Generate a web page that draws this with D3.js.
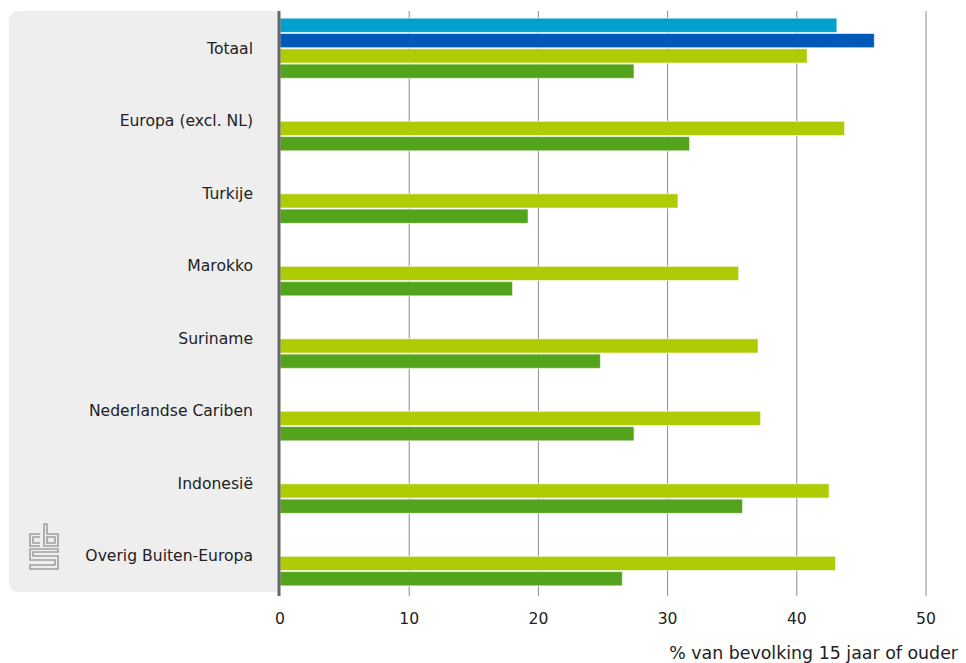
<!DOCTYPE html>
<html><head><meta charset="utf-8">
<script src="https://cdn.jsdelivr.net/npm/d3@7"></script>
<style>body{margin:0;background:#fff}svg{display:block}text{font-family:"DejaVu Sans",sans-serif}</style>
</head><body><svg id="c" width="966" height="663"></svg>
<script>
const categories = ["Totaal","Europa (excl. NL)","Turkije","Marokko","Suriname","Nederlandse Cariben","Indonesië","Overig Buiten-Europa"];
const seriesNames = ["reeks1","reeks2","reeks3","reeks4"];
const series1 = [43.1, null, null, null, null, null, null, null];
const series2 = [46.0, null, null, null, null, null, null, null];
const series3 = [40.8, 43.7, 30.8, 35.5, 37.0, 37.2, 42.5, 43.0];
const series4 = [27.4, 31.7, 19.2, 18.0, 24.8, 27.4, 35.8, 26.5];
const colors = ["#00a1cd","#0058b8","#afcb05","#53a31d"];
const ticks = [0,10,20,30,40,50];
const axisTitle = "% van bevolking 15 jaar of ouder";

(function(){
const svg = d3.select("#c");
const pTop = 11, pBottom = 592, x0 = 280, x1 = 926;
const x = d3.scaleLinear().domain([0,50]).range([x0,x1]);
const y = d3.scaleBand().domain(categories).range([12,592]).paddingInner(0.17).paddingOuter(0.085);
const ys = d3.scaleBand().domain(seriesNames).range([0,y.bandwidth()]).paddingInner(0.07);

// panel
svg.append("path").attr("fill","#eeeeee")
  .attr("d",`M${x0},${pTop} H19 Q9,${pTop} 9,${pTop+10} V${pBottom-10} Q9,${pBottom} 19,${pBottom} H${x0} Z`);

// grid
svg.append("g").selectAll("line").data(ticks.slice(1)).join("line")
  .attr("x1",d=>x(d)).attr("x2",d=>x(d)).attr("y1",pTop).attr("y2",pBottom+4)
  .attr("stroke","#8c8c8c").attr("stroke-width",1);

// bars
const all = [series1,series2,series3,series4];
const g = svg.append("g");
all.forEach((s,si)=>{
  g.selectAll(null).data(categories.map((c,i)=>({c,v:s[i]})).filter(d=>d.v!=null)).join("rect")
    .attr("x",x(0)).attr("y",d=>y(d.c)+ys(seriesNames[si]))
    .attr("width",d=>x(d.v)-x(0)).attr("height",ys.bandwidth())
    .attr("fill",colors[si]).attr("stroke","#ffffff").attr("stroke-opacity",0.6).attr("stroke-width",1);
});

// zero axis
svg.append("line").attr("x1",x0-1).attr("x2",x0-1).attr("y1",pTop).attr("y2",pBottom+4)
  .attr("stroke","#666").attr("stroke-width",3);

// category labels
svg.append("g").selectAll("text").data(categories).join("text")
  .attr("x",253).attr("y",d=>y(d)+y.bandwidth()/2).attr("dy","0.35em")
  .attr("text-anchor","end").attr("font-size",15.6).attr("fill","#222").text(d=>d);

// tick labels
svg.append("g").selectAll("text").data(ticks).join("text")
  .attr("x",d=>x(d)).attr("y",624).attr("text-anchor","middle")
  .attr("font-size",15.6).attr("fill","#222").text(d=>d);

svg.append("text").attr("x",958).attr("y",659).attr("text-anchor","end")
  .attr("font-size",17.4).attr("fill","#222").text(axisTitle);

// cbs logo
const lg = svg.append("g").attr("fill","none").attr("stroke","#a0a0a0").attr("stroke-width",1.6);
lg.append("path").attr("d","M40,534 H30 V546 H40 M40,537 H33 V543 H40");
lg.append("path").attr("d","M44,524 V546 H58 V534 H47 V524 Z M47,537 H55 V543 H47 Z");
lg.append("path").attr("d","M58,549 H30 V560 H55 V565 H30 V569 H58 V556 H33 V552 H58 Z");
})();
</script></body></html>
